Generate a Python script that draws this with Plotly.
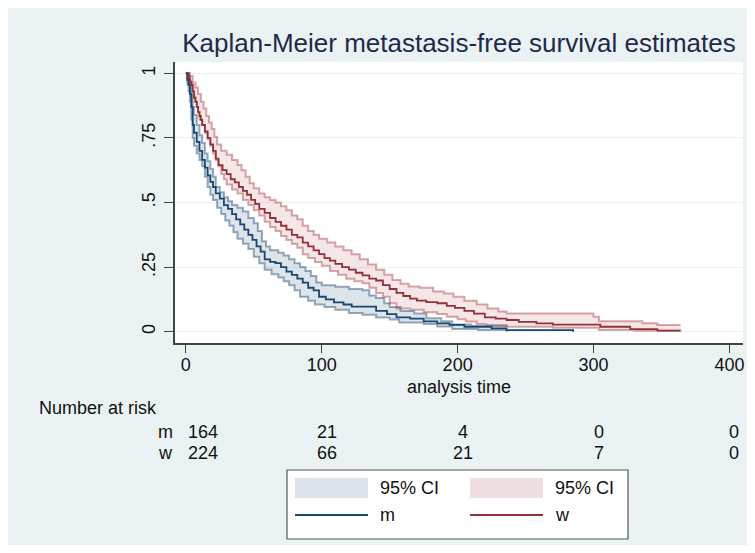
import plotly.graph_objects as go

# ---------------- data ----------------
m_t = [0, 1, 2, 3, 4, 5, 6, 8, 10, 12, 14, 16, 18, 20, 22, 25, 28, 31, 34, 37, 40, 43, 46, 49, 52, 55, 58, 62, 66, 70, 74, 78, 82, 86, 90, 94, 98, 103, 109, 116, 122, 140, 148, 155, 165, 175, 185, 194, 205, 225, 236, 285]
m_s = [1.0, 0.975, 0.955, 0.92, 0.87, 0.80, 0.77, 0.735, 0.70, 0.665, 0.635, 0.605, 0.58, 0.56, 0.535, 0.515, 0.49, 0.475, 0.455, 0.435, 0.415, 0.395, 0.375, 0.355, 0.33, 0.31, 0.28, 0.27, 0.265, 0.25, 0.232, 0.22, 0.205, 0.19, 0.17, 0.16, 0.135, 0.125, 0.113, 0.105, 0.097, 0.08, 0.068, 0.055, 0.05, 0.04, 0.032, 0.026, 0.019, 0.013, 0.006, 0.0]

m_hi_t = [0, 2, 3, 4, 5, 6, 8, 10, 12, 14, 16, 18, 20, 22, 25, 28, 31, 34, 38, 42, 46, 50, 53, 56, 59, 62, 68, 72, 76, 80, 84, 88, 92, 96, 100, 110, 120, 130, 135, 140, 146, 150, 158, 168, 177, 188, 196, 210, 236]
m_hi = [1.0, 0.99, 0.96, 0.92, 0.87, 0.84, 0.80, 0.76, 0.73, 0.69, 0.66, 0.63, 0.60, 0.56, 0.54, 0.52, 0.505, 0.49, 0.48, 0.465, 0.44, 0.42, 0.39, 0.35, 0.33, 0.315, 0.305, 0.295, 0.28, 0.265, 0.25, 0.235, 0.215, 0.19, 0.18, 0.174, 0.165, 0.16, 0.14, 0.13, 0.11, 0.095, 0.08, 0.07, 0.052, 0.04, 0.028, 0.022, 0.019]

m_lo_t = [0, 1, 2, 3, 4, 5, 6, 8, 10, 12, 14, 16, 18, 20, 23, 26, 29, 32, 35, 38, 42, 46, 50, 54, 58, 63, 68, 72, 76, 80, 84, 90, 95, 102, 110, 120, 130, 140, 150, 157, 175, 185, 196, 215, 236]
m_lo = [1.0, 0.96, 0.93, 0.89, 0.82, 0.75, 0.72, 0.69, 0.665, 0.64, 0.60, 0.56, 0.53, 0.51, 0.48, 0.455, 0.43, 0.41, 0.385, 0.36, 0.34, 0.32, 0.29, 0.265, 0.24, 0.222, 0.21, 0.195, 0.18, 0.16, 0.135, 0.12, 0.105, 0.095, 0.085, 0.072, 0.065, 0.055, 0.047, 0.035, 0.03, 0.02, 0.01, 0.006, 0.0]

w_t = [0, 2, 3, 4, 5, 6, 7, 8, 9, 10, 11, 12, 14, 16, 18, 20, 22, 24, 27, 30, 33, 36, 39, 42, 45, 48, 51, 54, 58, 62, 66, 70, 74, 78, 82, 86, 90, 94, 98, 102, 106, 110, 115, 120, 125, 130, 135, 140, 145, 150, 155, 160, 165, 170, 177, 185, 192, 198, 205, 212, 220, 228, 236, 245, 258, 270, 305, 327, 347, 364]
w_s = [1.0, 0.98, 0.965, 0.955, 0.93, 0.905, 0.89, 0.87, 0.85, 0.835, 0.82, 0.80, 0.775, 0.75, 0.725, 0.70, 0.67, 0.645, 0.625, 0.61, 0.59, 0.578, 0.56, 0.545, 0.53, 0.51, 0.495, 0.475, 0.46, 0.44, 0.425, 0.41, 0.395, 0.375, 0.365, 0.345, 0.33, 0.315, 0.30, 0.285, 0.275, 0.262, 0.25, 0.24, 0.228, 0.218, 0.205, 0.198, 0.18, 0.165, 0.15, 0.138, 0.128, 0.12, 0.114, 0.11, 0.10, 0.092, 0.08, 0.07, 0.055, 0.05, 0.045, 0.038, 0.032, 0.027, 0.019, 0.01, 0.004, 0.004]

w_hi_t = [0, 3, 5, 7, 9, 11, 13, 15, 17, 19, 21, 23, 26, 30, 34, 38, 41, 44, 47, 50, 54, 58, 62, 66, 70, 74, 78, 82, 86, 90, 94, 98, 104, 110, 116, 122, 128, 134, 140, 146, 152, 158, 164, 172, 182, 190, 197, 205, 214, 222, 230, 236, 300, 304, 336, 347, 364]
w_hi = [1.0, 0.99, 0.965, 0.945, 0.92, 0.89, 0.865, 0.835, 0.81, 0.785, 0.755, 0.725, 0.70, 0.685, 0.665, 0.645, 0.625, 0.60, 0.575, 0.555, 0.535, 0.52, 0.51, 0.50, 0.485, 0.47, 0.45, 0.435, 0.41, 0.39, 0.375, 0.36, 0.345, 0.33, 0.315, 0.30, 0.28, 0.26, 0.24, 0.22, 0.20, 0.185, 0.175, 0.17, 0.155, 0.148, 0.135, 0.12, 0.105, 0.09, 0.078, 0.07, 0.058, 0.04, 0.032, 0.026, 0.026]

w_lo_t = [0, 2, 4, 5, 6, 7, 8, 9, 10, 12, 14, 16, 18, 20, 22, 24, 26, 28, 30, 34, 38, 42, 46, 50, 54, 58, 62, 66, 70, 74, 78, 82, 86, 90, 95, 100, 106, 112, 118, 124, 130, 135, 140, 145, 150, 155, 165, 175, 185, 192, 200, 206, 214, 221, 236, 270, 304, 330, 364]
w_lo = [1.0, 0.97, 0.955, 0.93, 0.91, 0.89, 0.87, 0.85, 0.82, 0.80, 0.77, 0.745, 0.72, 0.69, 0.665, 0.64, 0.61, 0.59, 0.57, 0.55, 0.535, 0.51, 0.49, 0.47, 0.45, 0.425, 0.405, 0.39, 0.37, 0.355, 0.34, 0.325, 0.30, 0.285, 0.27, 0.255, 0.235, 0.22, 0.205, 0.195, 0.187, 0.17, 0.15, 0.135, 0.11, 0.09, 0.085, 0.075, 0.068, 0.058, 0.048, 0.039, 0.03, 0.026, 0.019, 0.015, 0.006, 0.003, 0.0]

risk_times = [0, 100, 200, 300, 400]
risk_m = [164, 21, 4, 0, 0]
risk_w = [224, 66, 21, 7, 0]

x_ticks = [0, 100, 200, 300, 400]
y_ticks = [0, 0.25, 0.5, 0.75, 1]
y_labels = ["0", ".25", ".5", ".75", "1"]

title = "Kaplan-Meier metastasis-free survival estimates"
groups = ["m", "w"]

# ---------------- styles ----------------
NAVY = "#1a476f"
MAROON = "#93303a"
NAVY_EDGE = "rgba(26,71,111,0.45)"
MAROON_EDGE = "rgba(160,50,60,0.42)"
NAVY_FILL = "rgba(26,71,111,0.15)"
MAROON_FILL = "rgba(180,60,70,0.13)"
BG = "#eaf2f3"
FONT = "Liberation Sans"

OFF = 8  # page offset of the figure inside the window
W, H = 739, 537
L, R, T, B = 175 - OFF, 4, 62 - OFF, 202
PW, PH = W - L - R, H - T - B


def px(x):
    # reference window pixel x -> paper coordinate
    return (x - OFF - L) / PW


def py(y):
    # reference window pixel y -> paper coordinate
    return (H - B - (y - OFF)) / PH


fig = go.Figure()

# CI bands
for lo_t, lo, hi_t, hi, edge, fill in [
    (m_lo_t, m_lo, m_hi_t, m_hi, NAVY_EDGE, NAVY_FILL),
    (w_lo_t, w_lo, w_hi_t, w_hi, MAROON_EDGE, MAROON_FILL),
]:
    fig.add_trace(go.Scatter(x=lo_t, y=lo, mode="lines", line=dict(color=edge, width=2, shape="hv"),
                             showlegend=False, hoverinfo="skip"))
    fig.add_trace(go.Scatter(x=hi_t, y=hi, mode="lines", line=dict(color=edge, width=2, shape="hv"),
                             fill="tonexty", fillcolor=fill, showlegend=False, hoverinfo="skip"))

# survival lines
fig.add_trace(go.Scatter(x=m_t, y=m_s, mode="lines", name="m",
                         line=dict(color=NAVY, width=1.8, shape="hv"), showlegend=False))
fig.add_trace(go.Scatter(x=w_t, y=w_s, mode="lines", name="w",
                         line=dict(color=MAROON, width=1.8, shape="hv"), showlegend=False))

shapes = []
annotations = []

# white plot region
shapes.append(dict(type="rect", xref="paper", yref="paper", x0=0, x1=1, y0=0, y1=1,
                   fillcolor="white", line=dict(width=0), layer="below"))

# number at risk table
annotations.append(dict(text="Number at risk", xref="paper", yref="paper", x=px(37), y=py(408),
                        xanchor="left", yanchor="middle", showarrow=False, font=dict(size=18, color="#111")))
for g, vals, yy in [(groups[0], risk_m, 432), (groups[1], risk_w, 453)]:
    annotations.append(dict(text=g, xref="paper", yref="paper", x=px(175), y=py(yy),
                            xanchor="right", yanchor="middle", showarrow=False, font=dict(size=18, color="#111")))
    for i, (t, v) in enumerate(zip(risk_times, vals)):
        annotations.append(dict(text=str(v), xref="x", yref="paper", x=t, y=py(yy),
                                xanchor="left" if i == 0 else "center", xshift=0 if i == 0 else 5,
                                yanchor="middle", showarrow=False, font=dict(size=18, color="#111")))

# legend box (drawn)
shapes.append(dict(type="rect", xref="paper", yref="paper", x0=px(287), x1=px(628), y0=py(539), y1=py(470),
                   fillcolor="white", line=dict(color="#555", width=1.2)))
for (x0, x1, tx, fill, lc, lab) in [
    (295, 368, 378, "#dde3ea", NAVY, groups[0]),
    (470, 543, 553, "#f0dfe0", MAROON, groups[1]),
]:
    shapes.append(dict(type="rect", xref="paper", yref="paper", x0=px(x0), x1=px(x1), y0=py(498), y1=py(478),
                       fillcolor=fill, line=dict(width=0)))
    shapes.append(dict(type="line", xref="paper", yref="paper", x0=px(x0), x1=px(x1), y0=py(515), y1=py(515),
                       line=dict(color=lc, width=1.8)))
    annotations.append(dict(text="95% CI", xref="paper", yref="paper", x=px(tx), y=py(488),
                            xanchor="left", yanchor="middle", showarrow=False, font=dict(size=18, color="#111")))
    annotations.append(dict(text=lab, xref="paper", yref="paper", x=px(tx), y=py(515),
                            xanchor="left", yanchor="middle", showarrow=False, font=dict(size=18, color="#111")))

fig.update_layout(
    width=W, height=H,
    margin=dict(l=L, r=R, t=T, b=B),
    paper_bgcolor=BG,
    plot_bgcolor="rgba(0,0,0,0)",
    font=dict(family=FONT, size=18, color="#111"),
    title=dict(text=title, xref="paper", x=px(459), xanchor="center",
               yref="container", y=1 - (43 - OFF) / H, yanchor="middle",
               font=dict(size=26, color="#1f2a48", family=FONT)),
    shapes=shapes,
    annotations=annotations,
    showlegend=False,
)

fig.update_xaxes(range=[-8, 410], tickvals=x_ticks, ticks="outside", ticklen=8, tickwidth=1.3,
                 tickcolor="#444", showline=True, linecolor="#444", linewidth=1.5, showgrid=False,
                 zeroline=False, ticklabelstandoff=-3,
                 title=dict(text="analysis time", standoff=6, font=dict(size=18)),
                 tickfont=dict(size=18))
fig.update_yaxes(range=[-0.044, 1.044], tickvals=y_ticks, ticktext=y_labels, tickangle=-90,
                 ticks="outside", ticklen=9, tickwidth=1.3, tickcolor="#444", showline=True,
                 linecolor="#444", linewidth=1.5, showgrid=True, gridcolor=BG, gridwidth=1.2,
                 zeroline=False, ticklabelstandoff=2, tickfont=dict(size=18))

fig.write_html("out.html")
